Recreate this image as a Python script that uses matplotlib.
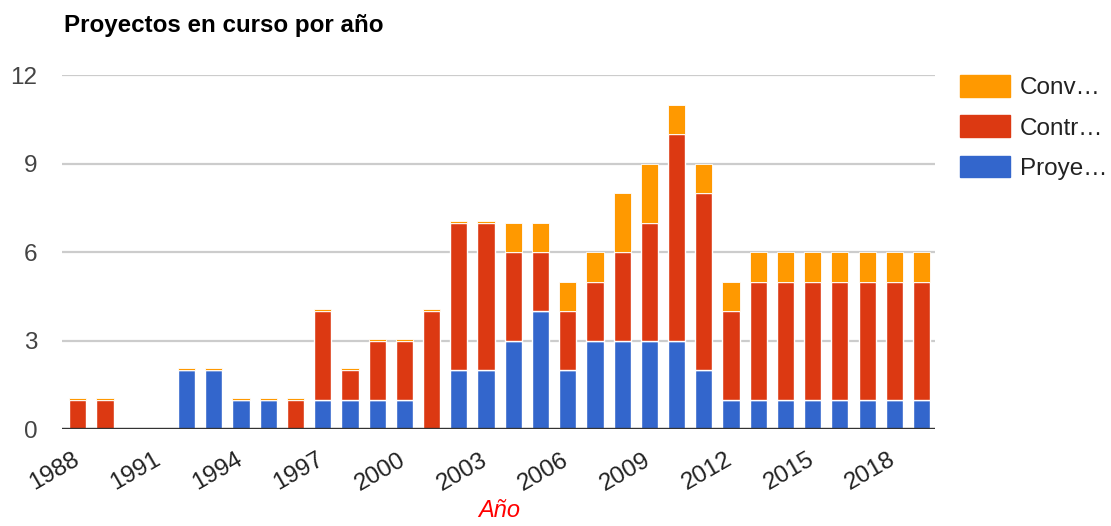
import matplotlib
matplotlib.use("Agg")
import matplotlib.pyplot as plt
import matplotlib.transforms as mtransforms
import numpy as np
from matplotlib.patches import Patch

# --- data ---
years = list(range(1988, 2020))
proyectos = [0, 0, 0, 0, 2, 2, 1, 1, 0, 1, 1, 1, 1, 0, 2, 2,
             3, 4, 2, 3, 3, 3, 3, 2, 1, 1, 1, 1, 1, 1, 1, 1]
contratos = [1, 1, 0, 0, 0, 0, 0, 0, 1, 3, 1, 2, 2, 4, 5, 5,
             3, 2, 2, 2, 3, 4, 7, 6, 3, 4, 4, 4, 4, 4, 4, 4]
# thin slivers on the early bars read as ~0.07
convenios = [0.07, 0.07, 0, 0, 0.07, 0.07, 0.07, 0.07, 0.07, 0.07, 0.07, 0.07, 0.07, 0.07, 0.07, 0.07,
             1, 1, 1, 1, 2, 2, 1, 1, 1, 1, 1, 1, 1, 1, 1, 1]
series_names = ["Conv…", "Contr…", "Proye…"]
tick_years = list(range(1988, 2019, 3))
y_ticks = [0, 3, 6, 9, 12]

BLUE = "#3366cc"
RED = "#dc3912"
ORANGE = "#ff9900"
TXT = "#444444"

plt.rcParams['font.family'] = ['Liberation Sans', 'DejaVu Sans']

fig = plt.figure(figsize=(11.11, 5.26), dpi=100)
ax = fig.add_axes([0.056, 0.184, 0.786, 0.673])

x = np.array(years)
p = np.array(proyectos, dtype=float)
c = np.array(contratos, dtype=float)
v = np.array(convenios, dtype=float)
w = 0.63

ax.bar(x, p, width=w, color=BLUE, edgecolor="white", linewidth=1, zorder=3)
ax.bar(x, c, width=w, bottom=p, color=RED, edgecolor="white", linewidth=1, zorder=3)
ax.bar(x, v, width=w, bottom=p + c, color=ORANGE, edgecolor="white", linewidth=0.6, zorder=3)

ax.set_xlim(1988 - 0.57, 2019 + 0.51)
ax.set_ylim(0, 12)
ax.set_yticks(y_ticks)
ax.set_xticks(tick_years)
ax.set_xticklabels([str(t) for t in tick_years], rotation=30, ha="right")

ax.grid(axis="y", color="#cccccc", linewidth=1.6, zorder=0)
ax.axhline(0, color="#333333", linewidth=2.4, zorder=4)
for s in ax.spines.values():
    s.set_visible(False)
ax.tick_params(axis="both", length=0, labelsize=17.5)
ax.tick_params(axis="y", pad=18, labelcolor=TXT)
ax.tick_params(axis="x", pad=14, labelcolor="#222222")

# nudge the rotated labels a bit to the right, like the original
shift = mtransforms.ScaledTranslation(5 / 100, 0, fig.dpi_scale_trans)
for lbl in ax.get_xticklabels():
    lbl.set_transform(lbl.get_transform() + shift)

ax.set_xlabel("Año", color="red", fontsize=17, style="italic", labelpad=3)

fig.text(0.058, 0.952, "Proyectos en curso por año", fontsize=17.4, fontweight="bold",
         color="black", ha="left", va="center")

handles = [Patch(color=ORANGE), Patch(color=RED), Patch(color=BLUE)]
fig.legend(handles, series_names, loc="upper left", bbox_to_anchor=(0.864, 0.857),
           frameon=False, fontsize=17.5, handlelength=2.05, handleheight=1.0,
           handletextpad=0.42, labelspacing=0.66, labelcolor="#222222",
           borderaxespad=0, borderpad=0)

fig.savefig("out.png", dpi=100)
